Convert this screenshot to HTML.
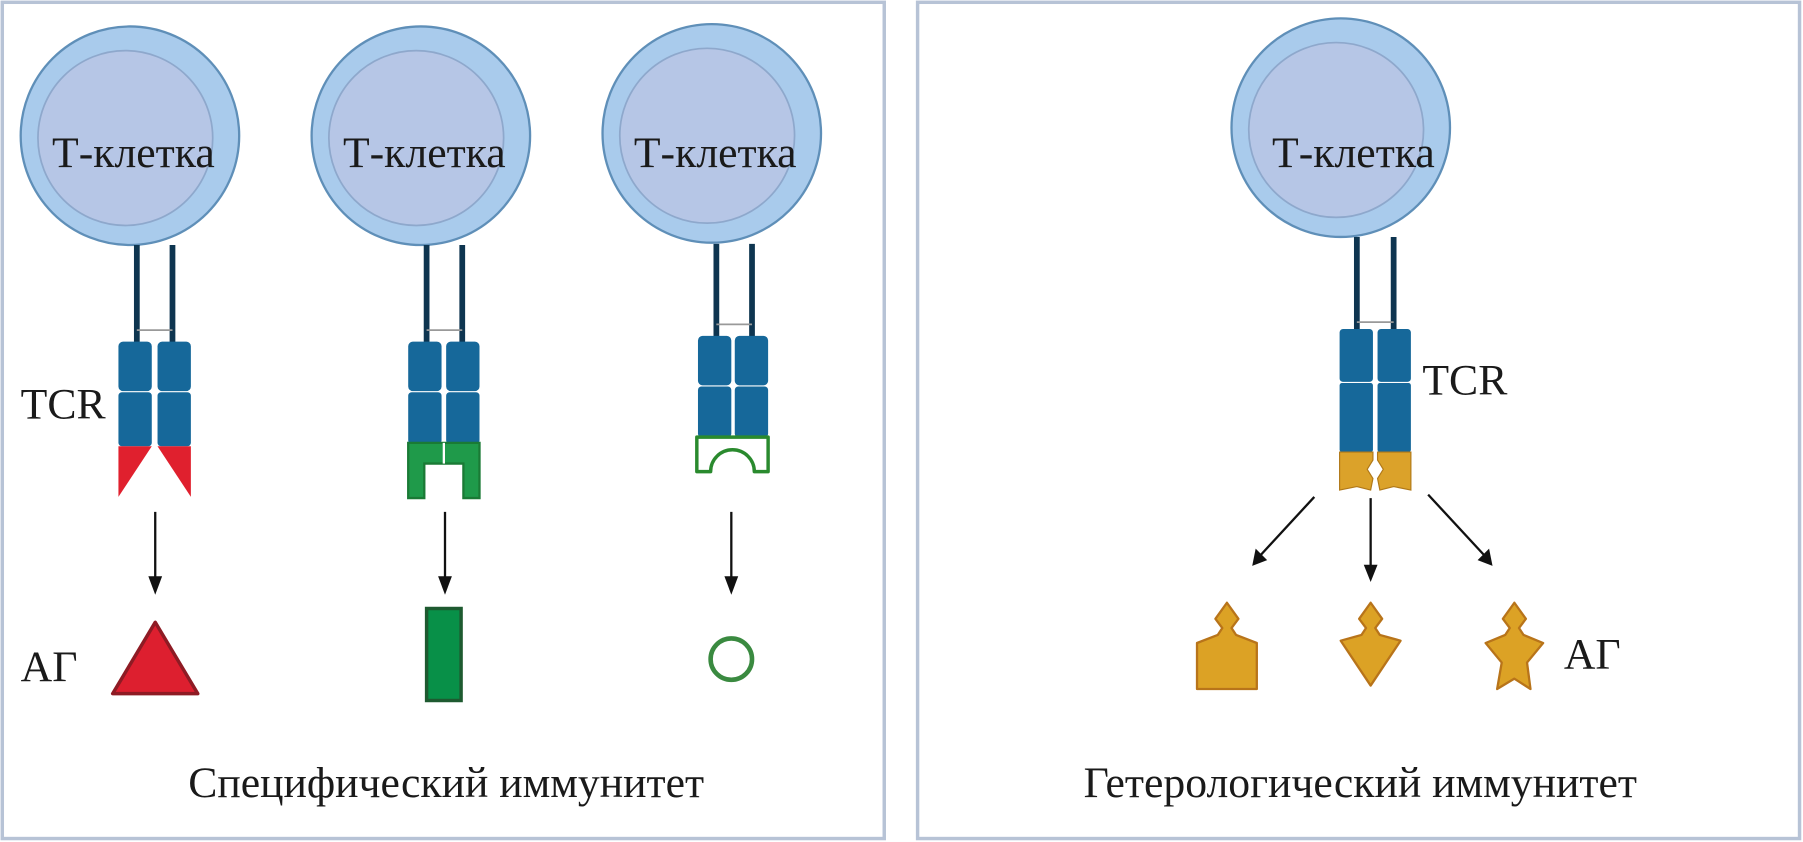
<!DOCTYPE html>
<html><head><meta charset="utf-8"><style>
html,body{margin:0;padding:0;background:#fff;}
svg{display:block}
text{font-family:"Liberation Serif","DejaVu Serif",serif;fill:#1a1a1a}
</style></head><body>
<svg width="1803" height="842" viewBox="0 0 1568 732" preserveAspectRatio="none" xmlns="http://www.w3.org/2000/svg">
<rect x="2" y="2" width="767" height="727" fill="#fff" stroke="#b7c3d6" stroke-width="3"/>
<rect x="798" y="2" width="767" height="727" fill="#fff" stroke="#b7c3d6" stroke-width="3"/>
<defs>
<g id="cell">
<circle cx="0" cy="0" r="95" fill="#a9cbec" stroke="#5f8fb8" stroke-width="2"/>
<circle cx="-4" cy="2" r="76" fill="#b6c6e6" stroke="#8ea8cc" stroke-width="1.5"/>
</g>
<g id="arrow">
<line x1="0" y1="0" x2="0" y2="62" stroke="#111" stroke-width="2"/>
<path d="M-6,56 L0,72 L6,56 Z" fill="#111"/>
</g>
</defs>
<!-- cell 1 -->
<use href="#cell" x="113" y="118"/>
<text x="116" y="145" font-size="38" text-anchor="middle">Т-клетка</text>
<line x1="119" y1="213" x2="119" y2="298" stroke="#0e3550" stroke-width="5"/>
<line x1="150" y1="213" x2="150" y2="298" stroke="#0e3550" stroke-width="5"/>
<line x1="119" y1="287" x2="150" y2="287" stroke="#999" stroke-width="1.5"/>
<rect x="103" y="297" width="29" height="43" rx="4" fill="#16689a"/>
<rect x="103" y="341" width="29" height="47" rx="3" fill="#16689a"/>
<rect x="137" y="297" width="29" height="43" rx="4" fill="#16689a"/>
<rect x="137" y="341" width="29" height="47" rx="3" fill="#16689a"/>
<path d="M103,388 L132,388 L103,432 Z" fill="#e0202e"/>
<path d="M137,388 L166,388 L166,432 Z" fill="#e0202e"/>
<text x="18" y="364" font-size="38">TCR</text>
<use href="#arrow" x="135" y="445"/>
<path d="M135,541 L98,603 L172,603 Z" fill="#dd1f2f" stroke="#8e1b24" stroke-width="3" stroke-linejoin="round"/>
<text x="18" y="592" font-size="38">АГ</text>
<!-- cell 2 -->
<use href="#cell" x="366" y="118"/>
<text x="369" y="145" font-size="38" text-anchor="middle">Т-клетка</text>
<line x1="371" y1="213" x2="371" y2="298" stroke="#0e3550" stroke-width="5"/>
<line x1="402" y1="213" x2="402" y2="298" stroke="#0e3550" stroke-width="5"/>
<line x1="371" y1="287" x2="402" y2="287" stroke="#999" stroke-width="1.5"/>
<rect x="355" y="297" width="29" height="43" rx="4" fill="#16689a"/>
<rect x="355" y="341" width="29" height="45" rx="3" fill="#16689a"/>
<rect x="388" y="297" width="29" height="43" rx="4" fill="#16689a"/>
<rect x="388" y="341" width="29" height="45" rx="3" fill="#16689a"/>
<path d="M355,385 L417,385 L417,433 L403,433 L403,403 L369,403 L369,433 L355,433 Z" fill="#1f9a4a" stroke="#1a7a35" stroke-width="2"/>
<line x1="386" y1="385" x2="386" y2="403" stroke="#fff" stroke-width="2"/>
<use href="#arrow" x="387" y="445"/>
<rect x="371" y="529" width="30" height="80" fill="#089048" stroke="#1e5a30" stroke-width="3"/>
<!-- cell 3 -->
<use href="#cell" x="619" y="116"/>
<text x="622" y="145" font-size="38" text-anchor="middle">Т-клетка</text>
<line x1="623" y1="212" x2="623" y2="294" stroke="#0e3550" stroke-width="5"/>
<line x1="654" y1="212" x2="654" y2="294" stroke="#0e3550" stroke-width="5"/>
<line x1="623" y1="282" x2="654" y2="282" stroke="#999" stroke-width="1.5"/>
<rect x="607" y="292" width="29" height="43" rx="4" fill="#16689a"/>
<rect x="607" y="336" width="29" height="44" rx="3" fill="#16689a"/>
<rect x="639" y="292" width="29" height="43" rx="4" fill="#16689a"/>
<rect x="639" y="336" width="29" height="44" rx="3" fill="#16689a"/>
<path d="M606,380 L668,380 L668,410 L656,410 A19,19 0 0 0 618,410 L606,410 Z" fill="#fff" stroke="#2a8a2e" stroke-width="3" stroke-linejoin="round"/>
<use href="#arrow" x="636" y="445"/>
<circle cx="636" cy="573" r="18" fill="none" stroke="#3a8a40" stroke-width="4"/>
<text x="388" y="693" font-size="38" text-anchor="middle">Специфический иммунитет</text>
<!-- right cell -->
<use href="#cell" x="1166" y="111"/>
<text x="1177" y="145" font-size="38" text-anchor="middle">Т-клетка</text>
<line x1="1180" y1="206" x2="1180" y2="290" stroke="#0e3550" stroke-width="5"/>
<line x1="1212" y1="206" x2="1212" y2="290" stroke="#0e3550" stroke-width="5"/>
<line x1="1180" y1="280" x2="1212" y2="280" stroke="#999" stroke-width="1.5"/>
<rect x="1165" y="286" width="29" height="46" rx="3" fill="#16689a"/>
<rect x="1165" y="333" width="29" height="60" rx="2" fill="#16689a"/>
<rect x="1198" y="286" width="29" height="46" rx="3" fill="#16689a"/>
<rect x="1198" y="333" width="29" height="60" rx="2" fill="#16689a"/>
<path d="M1165,393 L1194,393 L1194,400 L1189,408 L1194,416 L1192,426 L1180,423 L1165,426 Z" fill="#dba22a" stroke="#b07818" stroke-width="1"/>
<path d="M1227,393 L1198,393 L1198,400 L1203,408 L1198,416 L1200,426 L1212,423 L1227,426 Z" fill="#dba22a" stroke="#b07818" stroke-width="1"/>
<text x="1237" y="343" font-size="38">TCR</text>
<line x1="1143" y1="432" x2="1095" y2="484" stroke="#111" stroke-width="2"/>
<path d="M1089,492 L1092,477 L1102,487 Z" fill="#111"/>
<line x1="1192" y1="433" x2="1192" y2="495" stroke="#111" stroke-width="2"/>
<path d="M1186,491 L1192,506 L1198,491 Z" fill="#111"/>
<line x1="1242" y1="430" x2="1292" y2="484" stroke="#111" stroke-width="2"/>
<path d="M1298,492 L1285,487 L1295,477 Z" fill="#111"/>
<g fill="#dca225" stroke="#b8741a" stroke-width="2" stroke-linejoin="round">
<path d="M1041,559 L1059,552 L1063,546 L1057,538 L1067,524 L1077,538 L1071,546 L1075,552 L1093,559 L1093,599 L1041,599 Z"/>
<path d="M1166,557 L1184,552 L1188,546 L1182,538 L1192,524 L1202,538 L1196,546 L1200,552 L1218,557 L1192,596 Z"/>
<path d="M1292,559 L1309,552 L1313,546 L1307,538 L1317,524 L1327,538 L1321,546 L1325,552 L1342,559 L1328,576 L1331,599 L1317,590 L1302,599 L1306,576 Z"/>
</g>
<text x="1360" y="581" font-size="38">АГ</text>
<text x="1183" y="693" font-size="38" text-anchor="middle">Гетерологический иммунитет</text>
</svg>
</body></html>
